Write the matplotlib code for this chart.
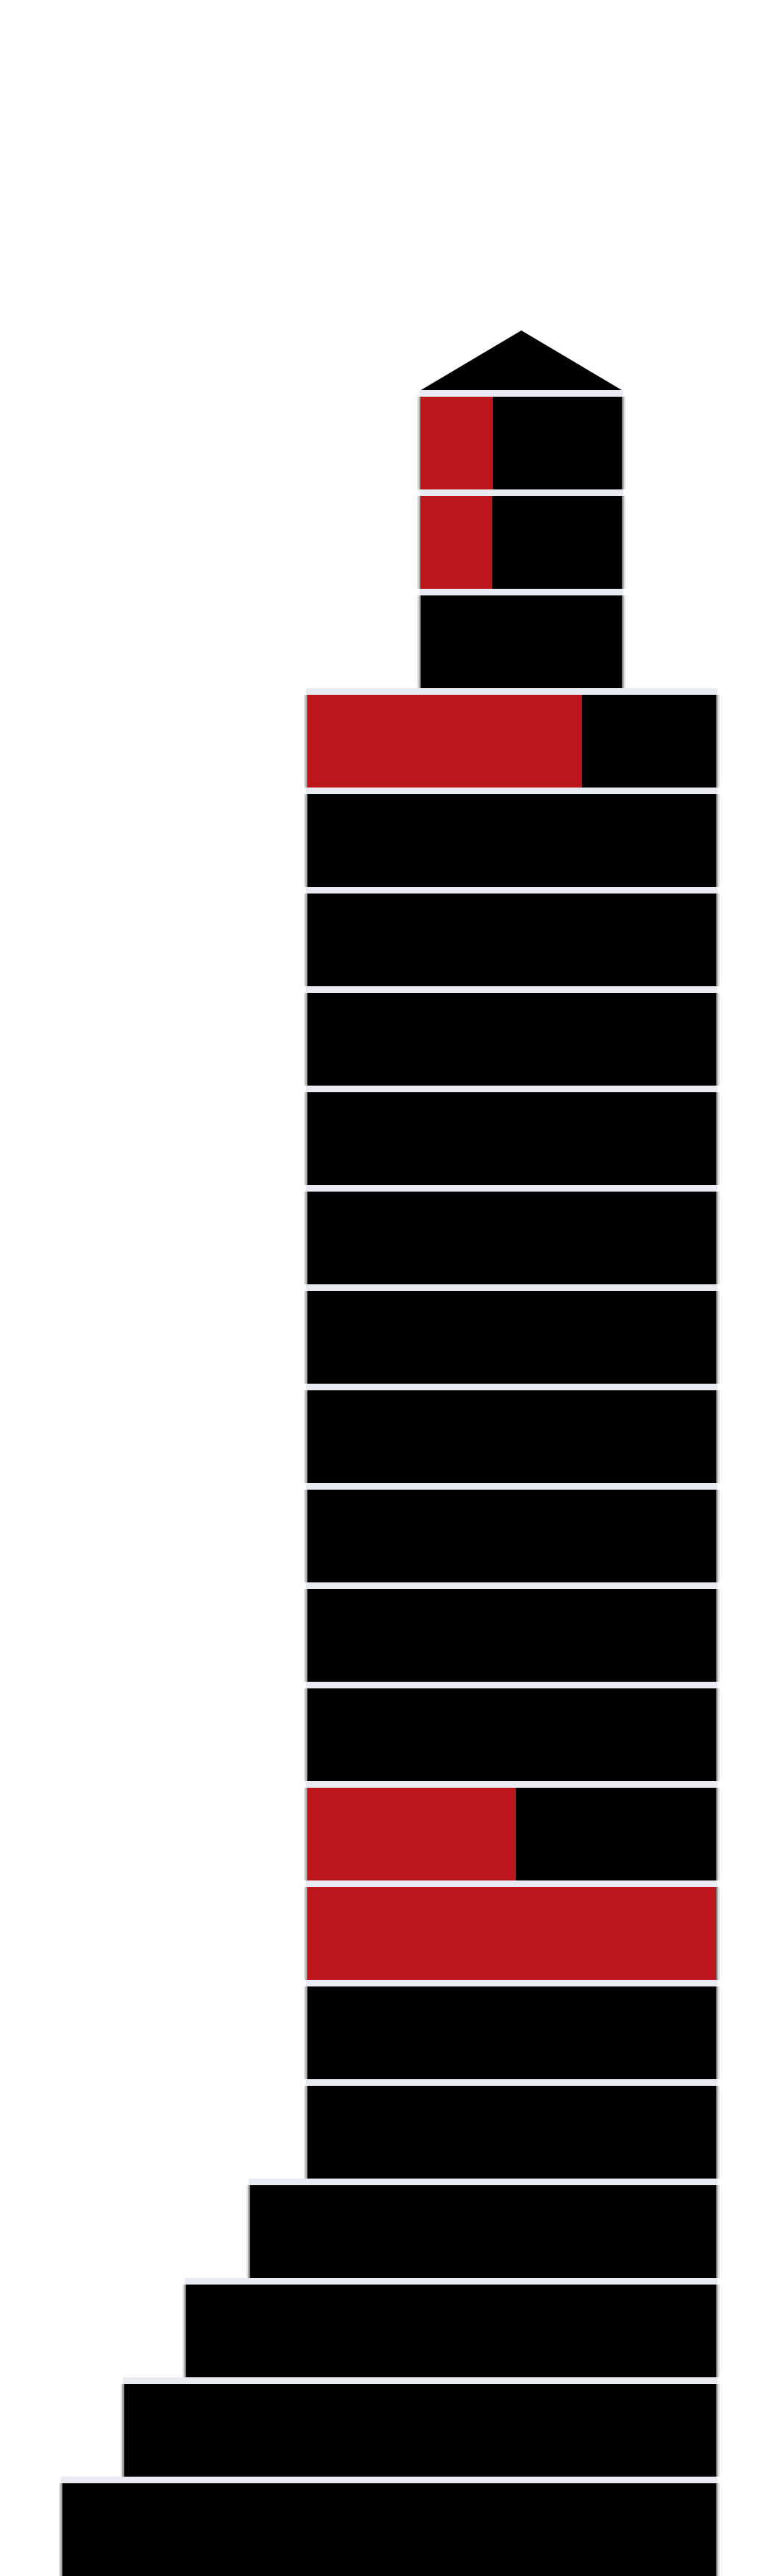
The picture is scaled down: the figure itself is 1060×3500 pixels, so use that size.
import matplotlib
matplotlib.use("Agg")
import matplotlib.pyplot as plt
from matplotlib.patches import Polygon

# ---- data (floors listed from top to bottom) ----
floor_left = [572, 572, 572,
              418, 418, 418, 418, 418, 418, 418, 418, 418, 418, 418, 418, 418, 418, 418,
              340, 253, 169, 85]
floor_right = [845, 845, 845,
               973, 973, 973, 973, 973, 973, 973, 973, 973, 973, 973, 973, 973, 973, 973,
               973, 973, 973, 973]
red_share = [0.36, 0.355, 0.0,
             0.672, 0.0, 0.0, 0.0, 0.0, 0.0, 0.0, 0.0, 0.0, 0.0, 0.0, 0.51, 1.0, 0.0, 0.0,
             0.0, 0.0, 0.0, 0.0]
roof_height = 0.6  # in floor units

BLACK = "#000000"
RED = "#BC151B"
LINE = "#EAEAF2"

n = len(floor_left)
widths = [r - l for l, r in zip(floor_left, floor_right)]
ys = list(range(n))
sep = 9 / 135

fig = plt.figure(figsize=(10.6, 35), dpi=100)
ax = fig.add_axes([0, 0, 1, 1])
ax.set_xlim(0, 1060)
# top floor starts 530 px below the top; 135 px per floor
ax.set_ylim(n - 0.5, -0.5 - 530 / 135)
ax.axis("off")

# soft edges (the reference has blurred sides), kept below each separator
body_y = [y + sep / 2 for y in ys]
for k, a in [(5, 0.12), (3, 0.22), (1, 0.4)]:
    ax.barh(body_y, [w + 2 * k for w in widths], left=[l - k for l in floor_left],
            height=1.0 - sep, color=BLACK, alpha=a, linewidth=0)

# floors
ax.barh(ys, widths, left=floor_left, height=1.0, color=BLACK, linewidth=0)
ax.barh(ys, [w * s for w, s in zip(widths, red_share)], left=floor_left,
        height=1.0, color=RED, linewidth=0)

# roof over the top floor
l0, r0 = floor_left[0], floor_right[0]
roof = Polygon([[l0, -0.5], [(l0 + r0) / 2, -0.5 - roof_height], [r0, -0.5]],
               closed=True, facecolor=BLACK, edgecolor="none")
ax.add_patch(roof)

# light separator at the top of each floor
ax.barh([y - 0.5 + sep / 2 for y in ys], [w + 4 for w in widths],
        left=[l - 2 for l in floor_left], height=sep, color=LINE, linewidth=0)

fig.savefig("out.png", dpi=100, facecolor="white")
